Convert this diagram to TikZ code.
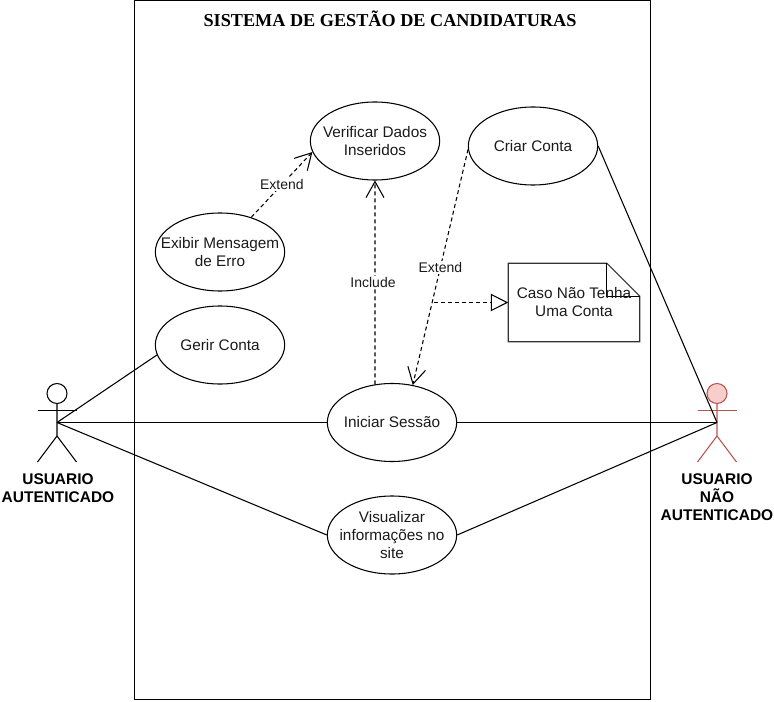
\documentclass[tikz,border=0pt]{standalone}
\usepackage{fontspec}
\setmainfont{Liberation Sans}
\newfontfamily\titlefont{Liberation Serif}
\usepackage{tikz}
\usetikzlibrary{positioning,arrows.meta,calc,shapes.geometric}
\definecolor{redfill}{HTML}{F8CECC}
\definecolor{redline}{HTML}{B85450}
\definecolor{notegray}{HTML}{333333}
\definecolor{txtgray}{HTML}{1A1A1A}

\begin{document}
\begin{tikzpicture}[x=0.75pt, y=-0.75pt,
      usecase/.style={draw, ellipse, line width=0.8pt, minimum width=97pt, minimum height=58.5pt,
                    inner xsep=-30pt, inner ysep=-15pt, align=center, text=txtgray, font=\fontsize{11.5}{13.5}\selectfont},
      actorname/.style={align=center, font=\fontsize{11.6}{13.5}\selectfont\bfseries},
      gate/.style={fill=white, inner sep=1pt, text=txtgray, font=\fontsize{10.5}{12}\selectfont},
      link/.style={line width=0.8pt},
      dep/.style={line width=0.8pt, dash pattern=on 3pt off 2.25pt, -{Straight Barb[length=12pt,width=13.5pt]}},
      trace/.style={line width=0.8pt, dash pattern=on 3pt off 2.25pt, -{Triangle[open,fill=white,length=13pt,width=13pt]}}]
    \useasboundingbox (0,0) rectangle (774,702);
    \node[draw, line width=0.8pt, minimum width=387pt, minimum height=524.25pt, inner sep=0pt, anchor=north west] (sistema) at (134,0) {};
    \node[font=\titlefont\fontsize{13.65}{15}\selectfont\bfseries] (titulo) at (390,19) {SISTEMA DE GESTÃO DE CANDIDATURAS};

    \node[usecase] (verificar) at (375,141) {Verificar Dados\\ Inseridos};
    \node[usecase] (criar) at (533,146) {Criar Conta};
    \node[usecase] (erro) at (220,252) {Exibir Mensagem\\ de Erro};
    \node[usecase] (gerir) at (220,345) {Gerir Conta};
    \node[usecase] (sessao) at (392,422.5) {Iniciar Sessão};
    \node[usecase] (visualizar) at (392,535) {Visualizar\\ informações no\\ site};

    \node[minimum width=98.25pt, minimum height=58.5pt, inner sep=0pt] (nota) at (574,302.5) {};
    \coordinate (dobraA) at ($(nota.north east)+(-33,0)$);
    \coordinate (dobraB) at ($(nota.north east)+(0,33)$);
    \draw[notegray, line width=0.8pt] (nota.north west) -- (dobraA) -- (dobraB) -- (nota.south east) -- (nota.south west) -- cycle;
    \draw[line width=0.8pt] (dobraA) -- (dobraA |- dobraB) -- (dobraB);
    \node[align=center, text=txtgray, font=\fontsize{11.5}{13.5}\selectfont] (notatexto) at (nota.center) {Caso Não Tenha\\ Uma Conta};

    \foreach \nome/\x/\cor/\fundo in {autent/57/black/white, naoaut/717/redline/redfill} {
      \node[draw=\cor, fill=\fundo, circle, line width=0.8pt, minimum size=15pt, inner sep=0pt] (\nome head) at (\x,393.5) {};
      \coordinate (\nome ombroE) at (\x-19.5,410.5);
      \coordinate (\nome ombroD) at (\x+19.5,410.5);
      \coordinate (\nome) at (\x,422.5);
      \coordinate (\nome anca) at (\x,436);
      \coordinate (\nome peE) at (\x-19.5,462);
      \coordinate (\nome peD) at (\x+19.5,462);
      \draw[\cor, line width=0.8pt] (\nome head) -- (\nome anca) -- (\nome peE);
      \draw[\cor, line width=0.8pt] (\nome anca) -- (\nome peD);
      \draw[\cor, line width=0.8pt] (\nome ombroE) -- (\nome ombroD);
    }
    \node[actorname] (autentnome) at (58,488) {USUARIO\\ AUTENTICADO};
    \node[actorname] (naoautnome) at (717,497) {USUARIO\\ NÃO\\ AUTENTICADO};

    \draw[link] (autent) -- (gerir.189);
    \draw[link] (autent) -- (sessao.west);
    \draw[link] (autent) -- (visualizar.west);
    \draw[link] (criar.east) -- (naoaut);
    \draw[link] (sessao.east) -- (naoaut);
    \draw[link] (visualizar.east) -- (naoaut);

    \draw[dep] (erro.48) -- node[gate] (extendA) {Extend} (verificar.190);
    \draw[dep] (sessao.114) -- node[gate, xshift=-1.5pt] (include) {Include} (verificar.south);
    \draw[dep] (criar.183) -- node[gate] (extendB) {Extend} (sessao.61);
    \coordinate (nota0) at (434,302.5);
    \draw[trace] (nota0) -- (nota.west);
\end{tikzpicture}
\end{document}
